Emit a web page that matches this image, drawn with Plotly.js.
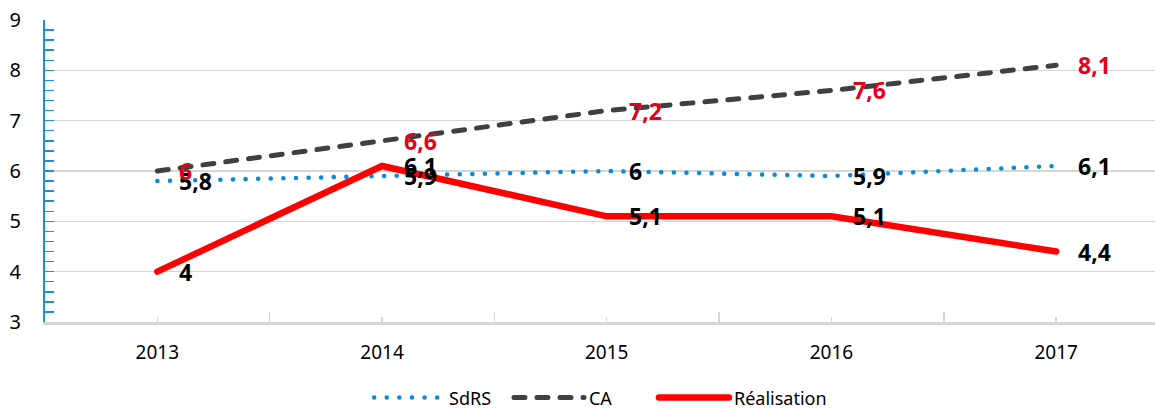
<!DOCTYPE html>
<html>
<head>
<meta charset="utf-8">
<script src="https://cdn.plot.ly/plotly-3.0.1.min.js"></script>
<style>
html,body{margin:0;padding:0;background:#fff;}
#chart{width:1155px;height:408px;}
.js-line{stroke-linecap:round !important;}
</style>
</head>
<body>
<div id="chart"></div>
<script>
const years = ['2013', '2014', '2015', '2016', '2017'];
const sdrs = [5.8, 5.9, 6, 5.9, 6.1];
const ca = [6, 6.6, 7.2, 7.6, 8.1];
const realisation = [4, 6.1, 5.1, 5.1, 4.4];
const seriesNames = ['SdRS', 'CA', 'Réalisation'];

const blue = '#1a8fd6';
const grid = '#d6d6d6';
const fontFam = '"Noto Sans", "Open Sans", sans-serif';

const fmt = v => String(v).replace('.', ',');

const traces = [
  {x: years, y: sdrs, name: seriesNames[0], mode: 'lines', hoverinfo: 'none', legend: 'legend',
   line: {color: '#0a8ad8', width: 4.5, dash: '0.1px,12.5px'}},
  {x: years, y: ca, name: seriesNames[1], mode: 'lines', hoverinfo: 'none', legend: 'legend2',
   line: {color: '#404040', width: 5, dash: '11px,12px'}},
  {x: years, y: realisation, name: seriesNames[2], mode: 'lines', hoverinfo: 'none', legend: 'legend3',
   line: {color: '#ff0000', width: 6.5}},
  {x: [0], y: [3], xaxis: 'x2', mode: 'none', showlegend: false, hoverinfo: 'none'}
];

function labels(vals, color) {
  return vals.map((v, i) => ({
    x: i, y: v, xref: 'x', yref: 'y', text: '<b>' + fmt(v) + '</b>', showarrow: false,
    xanchor: 'left', yanchor: 'middle', xshift: 20, yshift: 0,
    font: {family: fontFam, size: 23, color: color}
  }));
}

const annotations = [].concat(
  labels(sdrs, '#000'),
  labels(realisation, '#000'),
  labels(ca, '#e3001b')
);

function legendAt(x) {
  return {orientation: 'h', x: x, xanchor: 'left', yref: 'container', y: 0.025, yanchor: 'middle',
    font: {family: fontFam, size: 18, color: '#000'}, itemwidth: 70, bgcolor: 'rgba(0,0,0,0)'};
}

const layout = {
  width: 1155, height: 408,
  margin: {l: 45, r: 0, t: 20, b: 86},
  paper_bgcolor: '#fff', plot_bgcolor: '#fff',
  font: {family: fontFam, color: '#000'},
  showlegend: true,
  legend: legendAt(0.292),
  legend2: legendAt(0.418),
  legend3: legendAt(0.5486),
  xaxis: {type: 'category', range: [-0.5, 4.44], showgrid: false, zeroline: false,
    showline: true, linecolor: grid, linewidth: 2.5,
    ticks: 'inside', tickson: 'boundaries', ticklen: 10, tickcolor: grid, tickwidth: 1.5,
    tickfont: {family: fontFam, size: 19, color: '#000'}, ticklabelstandoff: 12},
  xaxis2: {type: 'linear', overlaying: 'x', anchor: 'y', side: 'bottom', range: [-0.5, 4.44],
    tickvals: years.map((_, i) => i), ticks: 'inside', ticklen: 5, tickcolor: grid, tickwidth: 1.5,
    showticklabels: false, showgrid: false, zeroline: false, showline: false},
  yaxis: {range: [3, 9], dtick: 1, tick0: 3, showgrid: true, gridcolor: grid, gridwidth: 1.5, zeroline: false,
    showline: true, linecolor: blue, linewidth: 2,
    ticks: 'inside', ticklen: 9, tickcolor: blue, tickwidth: 1.5,
    minor: {dtick: 0.2, ticks: 'inside', ticklen: 9, tickcolor: blue, tickwidth: 1.5, showgrid: false},
    tickfont: {family: fontFam, size: 20, color: '#000'}, ticklabelstandoff: 18},
  annotations: annotations
};

Plotly.newPlot('chart', traces, layout, {displayModeBar: false, staticPlot: true});
</script>
</body>
</html>
